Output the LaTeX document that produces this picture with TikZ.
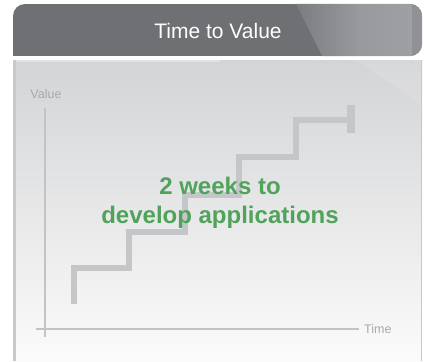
\documentclass[tikz,border=0pt]{standalone}
\usepackage{fontspec}
\setmainfont{Liberation Sans}
\definecolor{hdr}{HTML}{6F7074}
\definecolor{hdrlight}{HTML}{A0A1A4}
\definecolor{paneltop}{HTML}{D3D4D6}
\definecolor{panelbot}{HTML}{FBFBFB}
\definecolor{stair}{HTML}{C5C6C8}
\definecolor{axis}{HTML}{C2C3C5}
\definecolor{lbl}{HTML}{A8A9AB}
\definecolor{grn}{HTML}{4FA35B}
\definecolor{edge}{HTML}{C8C9CB}
\begin{document}
\begin{tikzpicture}[x=1pt,y=-1pt,
  axisline/.style={draw=axis,line width=1.3pt},
  stairline/.style={draw=stair,line width=6pt,line join=miter},
  axislabel/.style={text=lbl,font=\fontsize{12.5}{14}\selectfont,inner sep=0pt},
  greentext/.style={text=grn,font=\bfseries\fontsize{24}{29}\selectfont,align=center,inner sep=0pt}]
\useasboundingbox (0,0) rectangle (427,361);
\fill[white] (0,0) rectangle (427,361);
% header
\begin{scope}
  \clip[rounded corners=12pt] (13,56) -- (13,4) -- (422,4) -- (422,56) [sharp corners] -- cycle;
  \fill[hdr] (13,4) rectangle (422,56);
  \shade[left color=hdr!75!hdrlight, right color=hdrlight, middle color=hdrlight!85!hdr] (296,4) -- (422,4) -- (422,56) -- (322,56) -- cycle;
  \fill[hdr,opacity=0.12] (288,4) -- (296,4) -- (322,56) -- (314,56) -- cycle;
  \fill[hdr,opacity=0.3] (412,4) rectangle (422,56);
\end{scope}
\node[text=white,font=\fontsize{21}{24}\selectfont,inner sep=0pt] (title) at (218,31) {Time to Value};
% panel
\shade[top color=paneltop,bottom color=panelbot] (13,60) rectangle (422,361);
\fill[white,opacity=0.10] (355,60) -- (422,60) -- (422,105) -- cycle;
\fill[white,opacity=0.35] (15,60) rectangle (220,61.5);
\fill[edge] (13,60) rectangle (15.5,361);
\fill[edge] (420.5,60) rectangle (422,361);
% axes
\coordinate (yt) at (45,108);
\coordinate (yb) at (45,337);
\coordinate (xl) at (36,329);
\coordinate (xr) at (359,329);
\draw[axisline] (yt) -- (yb);
\draw[axisline] (xl) -- (xr);
\node[axislabel] (vlabel) at (46,94) {Value};
\node[axislabel,anchor=west] (tlabel) at (364,329.5) {Time};
% stairs
\draw[stairline] (73.5,304) -- (73.5,268) -- (129,268) -- (129,232) -- (185,232) -- (185,195)
  -- (239,195) -- (239,157) -- (296,157) -- (296,120) -- (351,120);
\draw[draw=stair,line width=8pt] (351,105) -- (351,133);
% text
\node[greentext] (msg) at (220,203) {2 weeks to\\develop applications};
\end{tikzpicture}
\end{document}
